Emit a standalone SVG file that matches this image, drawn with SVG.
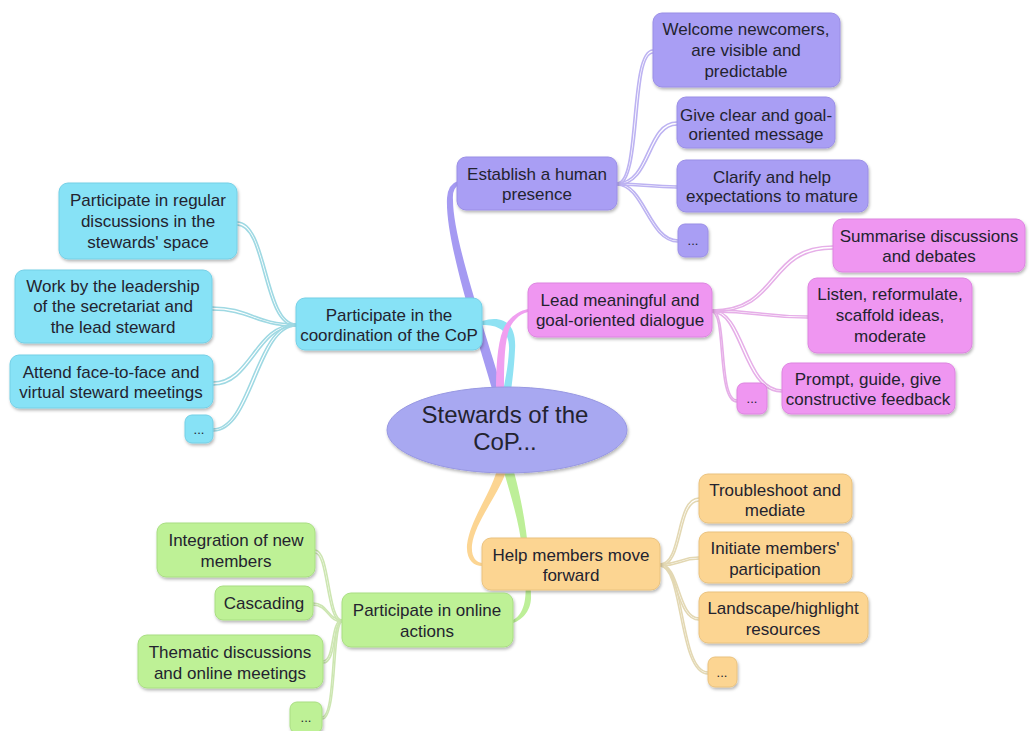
<svg xmlns="http://www.w3.org/2000/svg" width="1029" height="731" viewBox="0 0 1029 731">
<defs>
<filter id="sh" x="-10%" y="-10%" width="130%" height="140%">
<feDropShadow dx="1" dy="2" stdDeviation="1.4" flood-color="#000" flood-opacity="0.28"/>
</filter>
<style>
text{font-family:"Liberation Sans",Arial,sans-serif;font-size:17px;fill:#23232f;text-anchor:middle}
.dots{font-size:13px}
.big{font-size:24px}
.box{filter:url(#sh);stroke-width:1}
.pu{fill:#a99ef4;stroke:#9a8ee6}
.bl{fill:#87e2f6;stroke:#74d0e6}
.pk{fill:#ef96f1;stroke:#dd84e0}
.or{fill:#fcd592;stroke:#eac27e}
.gr{fill:#bef196;stroke:#a9de82}
.c{fill:none;stroke-width:1.6;stroke-linecap:round}
.cpu{stroke:#bdb3f2}
.cbl{stroke:#9fd9e3}
.cpk{stroke:#e6afe8}
.cor{stroke:#e3d8b3}
.cgr{stroke:#cde6b2}
</style>
</defs>
<g id="connectors">
<path d="M493,392 C475,330 445,240 447,198 Q448,184 458,181 L459,185 Q452,188 453,200 C453,240 485,330 503,392 Z" fill="#a59af2"/>
<path d="M482,321 C502,315 517,322 515,350 C514,370 512,382 511,392 L503,392 C505,380 508,368 509,350 C510,330 498,325 482,325 Z" fill="#8fe2f3"/>
<path d="M496,392 C496,370 497,345 503,330 C508,318 518,311 528,309 L528,312 C519,314 511,322 508,333 C504,348 504,370 504,392 Z" fill="#f0a0f0"/>
<path d="M504,472 C512,500 520,525 522,550 C526,580 528,600 521,612 C518,617 515,619 513,620 L513,623 C520,621 532,612 531,595 C530,560 527,520 514,472 Z" fill="#bdef98"/>
<path d="M497,470 C490,495 470,520 467,545 C466,560 474,566 482,566 L482,563 C476,562 471,557 472,545 C475,522 497,497 506,472 Z" fill="#fcd592"/>
<g class="cpu">
<path class="c" d="M617,183 C640,183 628,50 653,50"/>
<path class="c" d="M617,185 C643,185 631,53 653,53"/>
<path class="c" d="M617,183 C650,183 645,122 677,122"/>
<path class="c" d="M617,185 C652,185 648,125 677,125"/>
<path class="c" d="M617,183 C645,183 650,186 677,186"/>
<path class="c" d="M617,185 C645,185 650,188 677,188"/>
<path class="c" d="M617,183 C645,183 650,240 678,240"/>
<path class="c" d="M617,185 C643,185 648,242 678,242"/>
</g>
<g class="cbl">
<path class="c" d="M296,324 C265,324 268,222 237,222"/>
<path class="c" d="M296,326 C262,326 266,225 237,225"/>
<path class="c" d="M296,324 C255,324 250,307 212,307"/>
<path class="c" d="M296,326 C255,326 250,310 212,310"/>
<path class="c" d="M296,324 C255,324 250,382 213,382"/>
<path class="c" d="M296,326 C257,326 252,385 213,385"/>
<path class="c" d="M296,324 C255,324 250,429 213,429"/>
<path class="c" d="M296,326 C258,326 253,431 213,431"/>
</g>
<g class="cpk">
<path class="c" d="M712,310 C780,310 765,246 833,246"/>
<path class="c" d="M712,312 C782,312 767,249 833,249"/>
<path class="c" d="M712,310 C760,310 760,316 808,316"/>
<path class="c" d="M712,312 C760,312 760,318 808,318"/>
<path class="c" d="M712,310 C745,310 745,390 782,390"/>
<path class="c" d="M712,312 C742,312 742,392 782,392"/>
<path class="c" d="M712,310 C728,310 718,400 737,400"/>
<path class="c" d="M712,312 C726,312 716,402 737,402"/>
</g>
<g class="cor">
<path class="c" d="M660,564 C682,564 675,498 699,498"/>
<path class="c" d="M660,566 C684,566 677,501 699,501"/>
<path class="c" d="M660,564 C680,564 680,557 699,557"/>
<path class="c" d="M660,566 C680,566 680,559 699,559"/>
<path class="c" d="M660,564 C680,564 678,618 699,618"/>
<path class="c" d="M660,566 C678,566 676,620 699,620"/>
<path class="c" d="M660,564 C685,564 680,672 708,672"/>
<path class="c" d="M660,566 C683,566 678,674 708,674"/>
</g>
<g class="cgr">
<path class="c" d="M342,620 C328,620 330,550 315,550"/>
<path class="c" d="M342,622 C326,622 328,553 315,553"/>
<path class="c" d="M342,620 C328,620 328,603 313,603"/>
<path class="c" d="M342,622 C328,622 328,605 313,605"/>
<path class="c" d="M342,620 C330,620 335,661 323,661"/>
<path class="c" d="M342,622 C332,622 337,663 323,663"/>
<path class="c" d="M342,620 C330,620 336,717 322,717"/>
<path class="c" d="M342,622 C332,622 338,719 322,719"/>
</g>
</g>
<g id="center">
<ellipse cx="507" cy="430" rx="120" ry="43" fill="#a8a8f1" stroke="#9898e2" filter="url(#sh)"/>
<text class="big" x="505" y="423">Stewards of the</text>
<text class="big" x="505" y="450">CoP...</text>
</g>
<g id="establish"><rect class="box pu" x="457" y="157" width="160" height="53" rx="9"/><text x="537" y="180">Establish a human</text><text x="537" y="200">presence</text></g>
<g id="welcome"><rect class="box pu" x="653" y="13" width="187" height="74" rx="9"/><text x="746" y="35">Welcome newcomers,</text><text x="746" y="56">are visible and</text><text x="746" y="77">predictable</text></g>
<g id="giveclear"><rect class="box pu" x="677" y="97" width="158" height="51" rx="9"/><text x="756" y="121">Give clear and goal-</text><text x="756" y="140">oriented message</text></g>
<g id="clarify"><rect class="box pu" x="677" y="160" width="191" height="52" rx="9"/><text x="772" y="183">Clarify and help</text><text x="772" y="202">expectations to mature</text></g>
<g id="pu-more"><rect class="box pu" x="678" y="224" width="30" height="33" rx="7"/><text class="dots" x="693" y="245">...</text></g>
<g id="coordination"><rect class="box bl" x="296" y="298" width="186" height="52" rx="9"/><text x="389" y="321">Participate in the</text><text x="389" y="341">coordination of the CoP</text></g>
<g id="regular"><rect class="box bl" x="59" y="183" width="178" height="76" rx="9"/><text x="148" y="206">Participate in regular</text><text x="148" y="227">discussions in the</text><text x="148" y="248">stewards' space</text></g>
<g id="workby"><rect class="box bl" x="15" y="270" width="197" height="73" rx="9"/><text x="113" y="292">Work by the leadership</text><text x="113" y="312">of the secretariat and</text><text x="113" y="333">the lead steward</text></g>
<g id="attend"><rect class="box bl" x="10" y="355" width="203" height="53" rx="9"/><text x="111" y="378">Attend face-to-face and</text><text x="111" y="398">virtual steward meetings</text></g>
<g id="bl-more"><rect class="box bl" x="185" y="415" width="28" height="28" rx="7"/><text class="dots" x="199" y="434">...</text></g>
<g id="lead"><rect class="box pk" x="528" y="283" width="184" height="54" rx="9"/><text x="620" y="306">Lead meaningful and</text><text x="620" y="326">goal-oriented dialogue</text></g>
<g id="summarise"><rect class="box pk" x="833" y="219" width="192" height="53" rx="9"/><text x="929" y="242">Summarise discussions</text><text x="929" y="262">and debates</text></g>
<g id="listen"><rect class="box pk" x="808" y="278" width="164" height="75" rx="9"/><text x="890" y="300">Listen, reformulate,</text><text x="890" y="321">scaffold ideas,</text><text x="890" y="342">moderate</text></g>
<g id="prompt"><rect class="box pk" x="782" y="363" width="173" height="51" rx="9"/><text x="868" y="385">Prompt, guide, give</text><text x="868" y="405">constructive feedback</text></g>
<g id="pk-more"><rect class="box pk" x="737" y="383" width="30" height="31" rx="7"/><text class="dots" x="752" y="403">...</text></g>
<g id="help"><rect class="box or" x="482" y="538" width="178" height="52" rx="9"/><text x="571" y="561">Help members move</text><text x="571" y="581">forward</text></g>
<g id="troubleshoot"><rect class="box or" x="699" y="474" width="153" height="49" rx="9"/><text x="775" y="496">Troubleshoot and</text><text x="775" y="516">mediate</text></g>
<g id="initiate"><rect class="box or" x="699" y="532" width="153" height="51" rx="9"/><text x="775" y="554">Initiate members'</text><text x="775" y="575">participation</text></g>
<g id="landscape"><rect class="box or" x="699" y="592" width="169" height="51" rx="9"/><text x="783" y="614">Landscape/highlight</text><text x="783" y="635">resources</text></g>
<g id="or-more"><rect class="box or" x="708" y="657" width="29" height="30" rx="7"/><text class="dots" x="722" y="677">...</text></g>
<g id="online"><rect class="box gr" x="342" y="593" width="171" height="54" rx="9"/><text x="427" y="616">Participate in online</text><text x="427" y="637">actions</text></g>
<g id="integration"><rect class="box gr" x="157" y="523" width="158" height="54" rx="9"/><text x="236" y="546">Integration of new</text><text x="236" y="567">members</text></g>
<g id="cascading"><rect class="box gr" x="215" y="586" width="98" height="34" rx="8"/><text x="264" y="609">Cascading</text></g>
<g id="thematic"><rect class="box gr" x="138" y="635" width="185" height="53" rx="9"/><text x="230" y="658">Thematic discussions</text><text x="230" y="679">and online meetings</text></g>
<g id="gr-more"><rect class="box gr" x="290" y="702" width="32" height="31" rx="7"/><text class="dots" x="306" y="722">...</text></g>
</svg>
